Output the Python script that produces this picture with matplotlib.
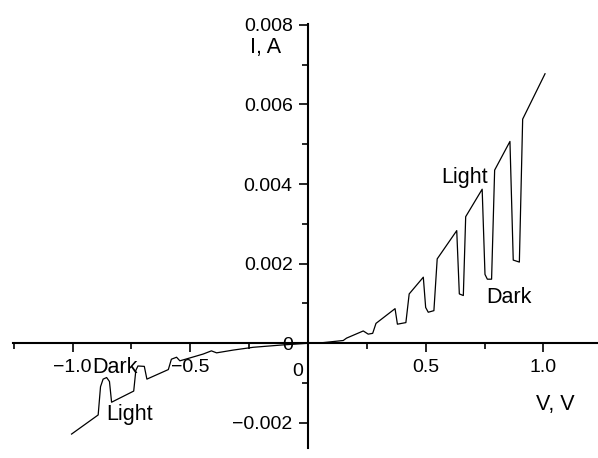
import matplotlib.pyplot as plt
from matplotlib.ticker import MultipleLocator, FixedLocator

plt.rcParams['font.family'] = ['Liberation Sans', 'DejaVu Sans']

# I-V curve under chopped light
volts = [-1.004, -0.891, -0.881, -0.870, -0.855, -0.843, -0.834, -0.740, -0.731,
         -0.722, -0.695, -0.684, -0.593, -0.580, -0.558, -0.544, -0.520, -0.445,
         -0.410, -0.388, -0.317, -0.232, -0.105, 0.0,
         0.037, 0.150, 0.164, 0.235, 0.256, 0.275, 0.289, 0.370, 0.380, 0.416,
         0.430, 0.490, 0.500, 0.511, 0.535, 0.549, 0.632, 0.643, 0.660, 0.670,
         0.740, 0.752, 0.762, 0.780, 0.793, 0.858, 0.872, 0.898, 0.912, 1.007]
amps = [-0.00228, -0.00180, -0.00109, -0.00090, -0.00086, -0.00096, -0.00148, -0.00120, -0.00068,
        -0.00057, -0.00058, -0.00090, -0.00066, -0.00040, -0.00035, -0.00044, -0.00040, -0.00027,
        -0.00019, -0.00024, -0.00017, -0.00010, -0.00004, 0.0,
        0.0, 0.00007, 0.00013, 0.00031, 0.00023, 0.00025, 0.00050, 0.00087, 0.00048, 0.00052,
        0.00124, 0.00166, 0.00090, 0.00078, 0.00082, 0.00212, 0.00283, 0.00124, 0.00120, 0.00318,
        0.00387, 0.00173, 0.00161, 0.00161, 0.00435, 0.00507, 0.00209, 0.00204, 0.00563, 0.00677]

x_ticks = [-1.0, -0.5, 0.0, 0.5, 1.0]
x_labels = ['\u22121.0', '\u22120.5', '', '0.5', '1.0']
y_ticks = [-0.002, 0.0, 0.002, 0.004, 0.006, 0.008]
y_labels = ['\u22120.002', '0', '0.002', '0.004', '0.006', '0.008']

fig = plt.figure(figsize=(5.98, 4.58), dpi=100)
ax = fig.add_axes([12.7 / 598, 1 - 448 / 458, 585.3 / 598, 424 / 458])
ax.plot(volts, amps, color='black', lw=0.9)

ax.set_xlim(-1.254, 1.232)
ax.set_ylim(-0.00263, 0.00802)

for s in ['top', 'right']:
    ax.spines[s].set_visible(False)
ax.spines['left'].set_position(('data', 0))
ax.spines['bottom'].set_position(('data', 0))
ax.spines['left'].set_linewidth(1.5)
ax.spines['bottom'].set_linewidth(1.5)

ax.xaxis.set_major_locator(FixedLocator(x_ticks))
ax.set_xticklabels(x_labels)
ax.xaxis.set_minor_locator(MultipleLocator(0.25))
ax.yaxis.set_major_locator(FixedLocator(y_ticks))
ax.set_yticklabels(y_labels)
ax.yaxis.set_minor_locator(MultipleLocator(0.001))

ax.tick_params(axis='both', which='major', direction='out', length=6.5, width=1.2, labelsize=14)
ax.tick_params(axis='both', which='minor', direction='out', length=4.5, width=1.2)
ax.tick_params(axis='x', pad=4.5)
ax.tick_params(axis='y', pad=4.5)

# zero label on x axis sits left of the y axis
ax.text(-0.019, -0.00083, '0', ha='right', va='baseline', fontsize=14)

ax.text(0.568, 0.00403, 'Light', ha='left', va='baseline', fontsize=15.5)
ax.text(0.759, 0.00102, 'Dark', ha='left', va='baseline', fontsize=15.5)
ax.text(-0.915, -0.000739, 'Dark', ha='left', va='baseline', fontsize=15.5)
ax.text(-0.858, -0.00193, 'Light', ha='left', va='baseline', fontsize=15.5)

ax.text(-0.178, 0.00728, 'I, A', ha='center', va='baseline', fontsize=15.5)
ax.text(0.969, -0.00168, 'V, V', ha='left', va='baseline', fontsize=15.5, clip_on=False)

fig.savefig('out.png', dpi=100)
